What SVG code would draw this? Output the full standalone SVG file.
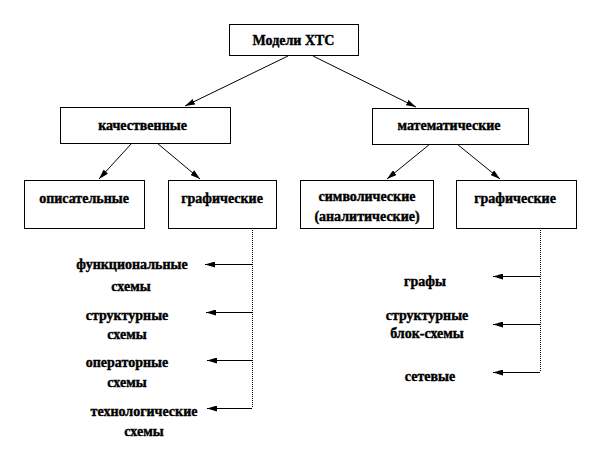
<svg xmlns="http://www.w3.org/2000/svg" width="612" height="456" viewBox="0 0 612 456">
<style>
.box{fill:#fff;stroke:#000;stroke-width:1}
.t{font-family:"Liberation Serif","Times New Roman",serif;font-weight:bold;font-size:14px;fill:#000;stroke:#000;stroke-width:0.4;text-anchor:middle}
.ln{stroke:#000;stroke-width:1;fill:none}
.vl{stroke:#000;stroke-width:1;fill:none;stroke-dasharray:1 1}
</style>
<defs>
<marker id="ah" viewBox="0 0 10 6" refX="10" refY="3" markerWidth="10" markerHeight="6" markerUnits="userSpaceOnUse" orient="auto">
<path d="M0,0 L10,3 L0,6 Z" fill="#000"/>
</marker>
</defs>
<rect width="612" height="456" fill="#fff"/>
<g id="connectors">
<line class="ln" x1="288" y1="56" x2="185" y2="106" marker-end="url(#ah)"/>
<line class="ln" x1="313" y1="56" x2="416" y2="107" marker-end="url(#ah)"/>
<line class="ln" x1="132" y1="143" x2="99" y2="179" marker-end="url(#ah)"/>
<line class="ln" x1="157" y1="143" x2="200" y2="179" marker-end="url(#ah)"/>
<line class="ln" x1="430" y1="144" x2="387" y2="179" marker-end="url(#ah)"/>
<line class="ln" x1="457" y1="144" x2="500" y2="179" marker-end="url(#ah)"/>
<line class="vl" x1="252.5" y1="228" x2="252.5" y2="408"/>
<line class="ln" x1="252" y1="264.5" x2="205" y2="264.5" marker-end="url(#ah)"/>
<line class="ln" x1="252" y1="312.5" x2="206" y2="312.5" marker-end="url(#ah)"/>
<line class="ln" x1="252" y1="360.5" x2="207" y2="360.5" marker-end="url(#ah)"/>
<line class="ln" x1="252" y1="408.5" x2="207" y2="408.5" marker-end="url(#ah)"/>
<line class="vl" x1="540.5" y1="228" x2="540.5" y2="372"/>
<line class="ln" x1="540" y1="276.5" x2="493" y2="276.5" marker-end="url(#ah)"/>
<line class="ln" x1="540" y1="324.5" x2="493" y2="324.5" marker-end="url(#ah)"/>
<line class="ln" x1="540" y1="372.5" x2="493" y2="372.5" marker-end="url(#ah)"/>
</g>
<g id="models">
<rect class="box" x="229.5" y="24.5" width="129" height="31"/>
<text class="t" x="293.5" y="45">Модели ХТС</text>
</g>
<g id="qual">
<rect class="box" x="60.5" y="107.5" width="170" height="36"/>
<text class="t" x="142.5" y="130">качественные</text>
</g>
<g id="math">
<rect class="box" x="372.5" y="108.5" width="156" height="36"/>
<text class="t" x="449" y="130">математические</text>
</g>
<g id="descr">
<rect class="box" x="24.5" y="180.5" width="120" height="48"/>
<text class="t" x="84" y="203">описательные</text>
</g>
<g id="graphL">
<rect class="box" x="168.5" y="180.5" width="108" height="48"/>
<text class="t" x="222" y="203">графические</text>
</g>
<g id="symb">
<rect class="box" x="300.5" y="180.5" width="133" height="48"/>
<text class="t" x="367" y="201">символические</text>
<text class="t" x="367" y="221">(аналитические)</text>
</g>
<g id="graphR">
<rect class="box" x="456.5" y="180.5" width="120" height="48"/>
<text class="t" x="515" y="203">графические</text>
</g>
<g id="func">
<text class="t" x="132" y="269">функциональные</text>
<text class="t" x="131" y="291">схемы</text>
</g>
<g id="struct">
<text class="t" x="127" y="320">структурные</text>
<text class="t" x="127" y="339">схемы</text>
</g>
<g id="oper">
<text class="t" x="127" y="367">операторные</text>
<text class="t" x="127" y="387">схемы</text>
</g>
<g id="tech">
<text class="t" x="144" y="416">технологические</text>
<text class="t" x="144" y="436">схемы</text>
</g>
<g id="graphs">
<text class="t" x="425" y="286">графы</text>
</g>
<g id="blocks">
<text class="t" x="427" y="320">структурные</text>
<text class="t" x="427" y="338">блок-схемы</text>
</g>
<g id="net">
<text class="t" x="430" y="381">сетевые</text>
</g>
</svg>
